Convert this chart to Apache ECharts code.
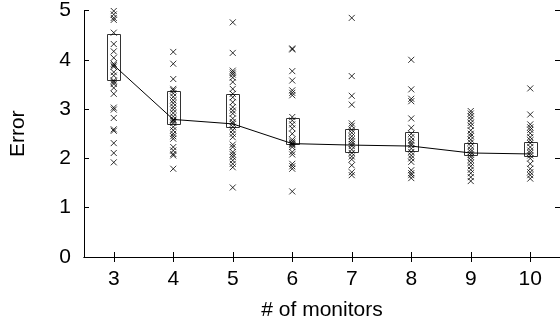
<!DOCTYPE html>
<html>
<head>
<meta charset="utf-8">
<script src="https://cdn.jsdelivr.net/npm/echarts@6/dist/echarts.min.js"></script>
<style>
html,body{margin:0;padding:0;background:#fff;}
#chart{width:560px;height:327px;}
</style>
</head>
<body>
<div id="chart"></div>
<script>
const categories = ['3','4','5','6','7','8','9','10'];
const yTicks = [0, 1, 2, 3, 4, 5];

const pts3 = [4.99, 4.92, 4.85, 4.81, 4.55, 4.32, 4.17, 4.04, 3.92, 3.89, 3.86, 3.75, 3.68, 3.58, 3.55, 3.51, 3.43, 3.31, 3.03, 2.99, 2.82, 2.59, 2.56, 2.31, 2.11, 1.92];
const pts4 = [4.16, 3.92, 3.61, 3.41, 3.38, 3.32, 3.25, 3.18, 3.12, 3.05, 2.99, 2.92, 2.85, 2.79, 2.78, 2.76, 2.72, 2.64, 2.57, 2.50, 2.45, 2.40, 2.23, 2.16, 2.09, 2.06, 1.79];
const pts5 = [4.76, 4.14, 3.78, 3.74, 3.70, 3.64, 3.55, 3.41, 3.31, 3.24, 3.14, 3.04, 2.97, 2.91, 2.81, 2.74, 2.70, 2.64, 2.57, 2.50, 2.43, 2.28, 2.23, 2.13, 2.08, 2.03, 1.96, 1.89, 1.82, 1.41];
const pts6 = [4.23, 4.21, 3.77, 3.58, 3.38, 3.33, 3.28, 2.84, 2.77, 2.69, 2.61, 2.50, 2.38, 2.34, 2.31, 2.29, 2.27, 2.23, 2.13, 2.08, 1.89, 1.84, 1.79, 1.33];
const pts7 = [4.85, 3.67, 3.27, 3.09, 2.71, 2.66, 2.58, 2.52, 2.45, 2.39, 2.34, 2.29, 2.25, 2.18, 2.11, 2.04, 1.98, 1.86, 1.72, 1.66];
const pts8 = [4.00, 3.40, 3.21, 3.16, 2.81, 2.62, 2.50, 2.43, 2.36, 2.31, 2.27, 2.20, 2.13, 2.06, 2.00, 1.93, 1.76, 1.70, 1.66, 1.60];
const pts9 = [2.96, 2.91, 2.85, 2.79, 2.72, 2.66, 2.57, 2.50, 2.45, 2.38, 2.32, 2.25, 2.18, 2.13, 2.08, 2.03, 1.97, 1.91, 1.84, 1.77, 1.70, 1.62, 1.54];
const pts10 = [3.42, 2.89, 2.69, 2.63, 2.58, 2.51, 2.43, 2.37, 2.31, 2.23, 2.16, 2.11, 2.06, 2.00, 1.89, 1.79, 1.72, 1.66, 1.59];

const q1 = [3.59, 2.69, 2.64, 2.30, 2.13, 2.15, 2.06, 2.04];
const q3 = [4.52, 3.36, 3.31, 2.82, 2.60, 2.54, 2.31, 2.33];
const medians = [3.89, 2.79, 2.70, 2.30, 2.27, 2.25, 2.11, 2.09];

const allPts = [pts3, pts4, pts5, pts6, pts7, pts8, pts9, pts10];
const scatterData = [];
allPts.forEach((arr, i) => arr.forEach(v => scatterData.push([i, v])));
const boxData = q1.map((v, i) => [i, v, q3[i]]);

const FONT = '"Liberation Sans", Arial, sans-serif';
const chart = echarts.init(document.getElementById('chart'), null, {renderer: 'canvas'});

const baseX = {
  type: 'category',
  data: categories,
  boundaryGap: true,
  axisLine: {show: true, lineStyle: {color: '#000', width: 1}},
  axisTick: {show: true, inside: true, alignWithLabel: true, length: 5, lineStyle: {color: '#000'}},
  splitLine: {show: false}
};
const baseY = {
  type: 'value',
  min: yTicks[0],
  max: yTicks[yTicks.length - 1],
  interval: 1,
  axisLine: {show: true, lineStyle: {color: '#000', width: 1}},
  axisTick: {show: true, inside: true, length: 5, lineStyle: {color: '#000'}},
  splitLine: {show: false}
};

chart.setOption({
  animation: false,
  backgroundColor: '#fff',
  grid: {left: 81, top: 10, width: 480, height: 247, containLabel: false},
  xAxis: [
    Object.assign({}, baseX, {
      position: 'bottom',
      name: '# of monitors',
      nameLocation: 'middle',
      nameGap: 43,
      nameTextStyle: {fontFamily: FONT, fontSize: 21, color: '#000'},
      axisLabel: {fontFamily: FONT, fontSize: 21, color: '#000', margin: 12}
    }),
    Object.assign({}, baseX, {position: 'top', axisLabel: {show: false}})
  ],
  yAxis: [
    Object.assign({}, baseY, {
      position: 'left',
      name: 'Error',
      nameLocation: 'middle',
      nameGap: 55,
      nameRotate: 90,
      nameTextStyle: {fontFamily: FONT, fontSize: 21, color: '#000'},
      axisLabel: {fontFamily: FONT, fontSize: 21, color: '#000', margin: 13}
    }),
    Object.assign({}, baseY, {position: 'right', axisLabel: {show: false}})
  ],
  series: [
    {
      type: 'custom',
      xAxisIndex: 0, yAxisIndex: 0,
      data: boxData,
      z: 1,
      renderItem: function (params, api) {
        const x = api.value(0);
        const lo = api.coord([x, api.value(1)]);
        const hi = api.coord([x, api.value(2)]);
        return {
          type: 'rect',
          shape: {x: Math.round(lo[0] - 6.5) + 0.5, y: Math.round(hi[1]) + 0.5, width: 13, height: Math.round(lo[1] - hi[1])},
          style: {fill: 'none', stroke: '#333', lineWidth: 1}
        };
      }
    },
    {
      type: 'scatter',
      xAxisIndex: 0, yAxisIndex: 0,
      data: scatterData,
      symbol: 'path://M0,0L10,10M10,0L0,10',
      symbolSize: 6,
      itemStyle: {color: 'none', borderColor: '#000', borderWidth: 1},
      z: 2
    },
    {
      type: 'line',
      xAxisIndex: 0, yAxisIndex: 0,
      data: medians,
      showSymbol: false,
      symbol: 'none',
      lineStyle: {color: '#000', width: 1},
      z: 3
    }
  ]
});
</script>
</body>
</html>
